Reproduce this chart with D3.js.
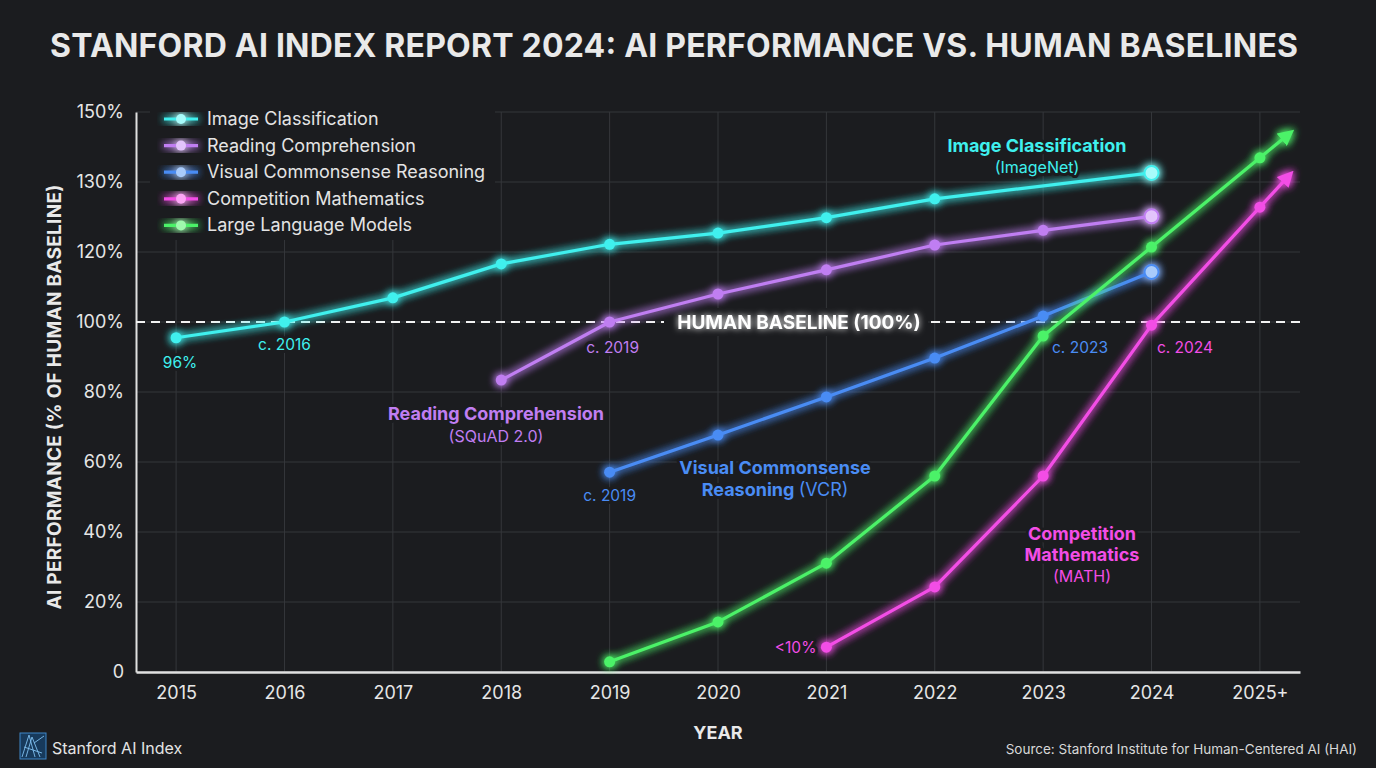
<!DOCTYPE html>
<head>
  <meta charset="utf-8">
  <script src="https://d3js.org/d3.v7.min.js"></script>
  <style>
    body { margin:0; background:#1b1c1f; }
    text { font-family: Inter, "Noto Sans", sans-serif; }
    .grid line { stroke:#35373b; stroke-width:1; }
    .tick-label { fill:#e6e6e6; font-size:18px; }
    .note { paint-order: stroke; stroke:#1b1c1f; stroke-width:6px; stroke-linejoin:round; }
  </style>
</head>

<body>
  <script>
  // ---------- data ---------------
    var years = ["2015","2016","2017","2018","2019","2020","2021","2022","2023","2024","2025+"];
    var yTicks = [0, 20, 40, 60, 80, 100, 120, 130, 150];
    var yTickLabels = ["0","20%","40%","60%","80%","100%","120%","130%","150%"];

    var imageClass = [95.5, 100, 106.9, 116.6, 121.1, 122.7, 124.9, 127.6, null, 132.6, null];
    var reading    = [null, null, null, 83.4, 100, 108, 114.9, 121, 123.1, 125.1, null];
    var vcr        = [null, null, null, null, 57.1, 67.7, 78.6, 89.7, 101.7, 114.3, null];
    var math       = [null, null, null, null, null, null, 7.1, 24.3, 56, 99.1, 126.4];
    var llm        = [null, null, null, null, 2.9, 14.3, 31.1, 56, 96, 120.7, 136.9];

    var seriesNames = ["Image Classification","Reading Comprehension","Visual Commonsense Reasoning","Competition Mathematics","Large Language Models"];
    var seriesColors = ["#3ff0ee","#c07ef2","#4a8cf4","#f34de6","#4cf268"];
    var seriesLight  = ["#a8fbfa","#e2c4fb","#a9cbfb","#fba6f4","#9ff9ad"];
    var seriesValues = [imageClass, reading, vcr, math, llm];

  // ---------- svg ---------------
    var W = 1376, H = 768, bg = "#1b1c1f";
    var svg = d3.select("body").append("svg")
      .attr("width", W)
      .attr("height", H);

    var plotL = 136, plotR = 1300, plotT = 112, plotB = 672;

    var x = d3.scalePoint().domain(years).range([plotL, plotR]).padding(0.37);
    // the axis is not linear above 120%, so use a piecewise scale
    var y = d3.scaleLinear().domain(yTicks)
      .range(yTicks.map(function(d, i) { return plotB - i * (plotB - plotT) / (yTicks.length - 1); }));

    var defs = svg.append("defs");
    var glow = defs.append("filter").attr("id", "glow")
      .attr("x", "-20%").attr("y", "-20%").attr("width", "140%").attr("height", "140%");
    glow.append("feGaussianBlur").attr("stdDeviation", 4).attr("result", "blur");
    var m = glow.append("feMerge");
    m.append("feMergeNode").attr("in", "blur");
    m.append("feMergeNode").attr("in", "blur");
    m.append("feMergeNode").attr("in", "SourceGraphic");

    var softGlow = defs.append("filter").attr("id", "softglow")
      .attr("x", "-20%").attr("y", "-50%").attr("width", "140%").attr("height", "200%");
    softGlow.append("feGaussianBlur").attr("stdDeviation", 3).attr("result", "blur");
    var m2 = softGlow.append("feMerge");
    m2.append("feMergeNode").attr("in", "blur");
    m2.append("feMergeNode").attr("in", "SourceGraphic");

    seriesColors.forEach(function(c, i) {
      defs.append("marker")
        .attr("id", "arrow" + i)
        .attr("viewBox", "0 0 10 10")
        .attr("refX", 6).attr("refY", 5)
        .attr("markerWidth", 5).attr("markerHeight", 5)
        .attr("markerUnits", "strokeWidth")
        .attr("orient", "auto")
        .append("path").attr("d", "M0,0 L10,5 L0,10 Z").attr("fill", c);
    });

    svg.append("rect").attr("width", W).attr("height", H).attr("fill", bg);

  // ---------- title ---------------
    svg.append("text")
      .attr("x", 674).attr("y", 57)
      .attr("text-anchor", "middle")
      .attr("fill", "#e9e9e9")
      .attr("font-size", 32).attr("font-weight", 700)
      .attr("textLength", 1248).attr("lengthAdjust", "spacing")
      .text("STANFORD AI INDEX REPORT 2024: AI PERFORMANCE VS. HUMAN BASELINES");

  // ---------- grid ---------------
    var grid = svg.append("g").attr("class", "grid");
    grid.selectAll(".h").data(yTicks).enter().append("line")
      .attr("x1", plotL).attr("x2", plotR)
      .attr("y1", function(d) { return y(d); }).attr("y2", function(d) { return y(d); });
    grid.selectAll(".v").data(years).enter().append("line")
      .attr("x1", function(d) { return x(d); }).attr("x2", function(d) { return x(d); })
      .attr("y1", plotT).attr("y2", plotB);

  // ---------- axes ---------------
    var yAxis = svg.append("g")
      .attr("transform", "translate(" + plotL + ",0)")
      .call(d3.axisLeft(y).tickValues(yTicks).tickSize(0).tickPadding(12)
        .tickFormat(function(d, i) { return yTickLabels[i]; }));
    yAxis.select(".domain").attr("stroke", "#e0e0e0").attr("stroke-width", 2);
    yAxis.selectAll("text").attr("class", "tick-label").attr("fill", null)
      .style("font-family", "Inter, 'Noto Sans', sans-serif");

    var xAxis = svg.append("g")
      .attr("transform", "translate(0," + plotB + ")")
      .call(d3.axisBottom(x).tickSize(0).tickPadding(14));
    xAxis.select(".domain").attr("stroke", "#e0e0e0").attr("stroke-width", 2.5);
    xAxis.selectAll("text").attr("class", "tick-label").attr("fill", null)
      .style("font-family", "Inter, 'Noto Sans', sans-serif");

    svg.append("text")
      .attr("transform", "translate(61," + ((plotT + plotB) / 2 + 5) + ") rotate(-90)")
      .attr("text-anchor", "middle")
      .attr("fill", "#e9e9e9").attr("font-size", 19).attr("font-weight", 700)
      .attr("textLength", 425).attr("lengthAdjust", "spacing")
      .text("AI PERFORMANCE (% OF HUMAN BASELINE)");

    svg.append("text")
      .attr("x", x("2020")).attr("y", 739)
      .attr("text-anchor", "middle")
      .attr("fill", "#e9e9e9").attr("font-size", 18).attr("font-weight", 700)
      .text("YEAR");

  // ---------- human baseline ---------------
    svg.append("line")
      .attr("x1", plotL).attr("x2", plotR)
      .attr("y1", y(100)).attr("y2", y(100))
      .attr("stroke", "#f2f2f2").attr("stroke-width", 2)
      .attr("stroke-dasharray", "9,6");
    svg.append("rect")
      .attr("x", 664).attr("y", y(100) - 14).attr("width", 264).attr("height", 28)
      .attr("fill", bg);
    svg.append("text")
      .attr("x", 799).attr("y", y(100) + 7)
      .attr("text-anchor", "middle")
      .attr("fill", "#ffffff").attr("font-size", 19).attr("font-weight", 700)
      .attr("filter", "url(#softglow)")
      .text("HUMAN BASELINE (100%)");

  // ---------- series ---------------
    seriesValues.forEach(function(vals, i) {
      var pts = vals.map(function(v, j) { return { year: years[j], v: v }; })
        .filter(function(d) { return d.v != null; });
      var line = d3.line()
        .x(function(d) { return x(d.year); })
        .y(function(d) { return y(d.v); });
      var g = svg.append("g").attr("filter", "url(#glow)");
      g.append("path")
        .attr("d", line(pts))
        .attr("fill", "none")
        .attr("stroke", seriesColors[i])
        .attr("stroke-width", 3.2)
        .attr("stroke-linejoin", "round");

      var last = pts[pts.length - 1];
      if (last.year === "2025+") {
        // continue the last segment into an arrow
        var prev = pts[pts.length - 2];
        var x0 = x(prev.year), y0 = y(prev.v), x1 = x(last.year), y1 = y(last.v);
        var k = 0.27;
        g.append("line")
          .attr("x1", x1).attr("y1", y1)
          .attr("x2", x1 + (x1 - x0) * k).attr("y2", y1 + (y1 - y0) * k)
          .attr("stroke", seriesColors[i]).attr("stroke-width", 3.2)
          .attr("marker-end", "url(#arrow" + i + ")");
      }

      g.selectAll("circle").data(pts).enter().append("circle")
        .attr("cx", function(d) { return x(d.year); })
        .attr("cy", function(d) { return y(d.v); })
        .attr("r", function(d) { return (d.year === "2024" && i < 3) ? 7 : 5.5; })
        .attr("fill", function(d) { return (d.year === "2024" && i < 3) ? seriesLight[i] : seriesColors[i]; })
        .attr("stroke", seriesColors[i])
        .attr("stroke-width", function(d) { return (d.year === "2024" && i < 3) ? 2 : 0; });
    });

  // ---------- annotations ---------------
    function note(tx, ty, parts, color, size, anchor) {
      var t = svg.append("text")
        .attr("class", "note")
        .attr("x", tx).attr("y", ty)
        .attr("text-anchor", anchor || "middle")
        .attr("fill", color).attr("font-size", size);
      parts.forEach(function(p) {
        t.append("tspan").attr("font-weight", p[1] ? 700 : 400).text(p[0]);
      });
    }
    var C = seriesColors;
    note(x("2015") + 4, 368, [["96%"]], C[0], 15.5);
    note(x("2016"), 350, [["c. 2016"]], C[0], 15.5);
    note(x("2019") + 3, 353, [["c. 2019"]], C[1], 15.5);
    note(496, 420, [["Reading Comprehension", 1]], C[1], 18);
    note(496, 442, [["(SQuAD 2.0)"]], C[1], 16);
    note(x("2019"), 501, [["c. 2019"]], C[2], 15.5);
    note(775, 474, [["Visual Commonsense", 1]], C[2], 18);
    note(775, 496, [["Reasoning ", 1], ["(VCR)"]], C[2], 18);
    note(1037, 152, [["Image Classification", 1]], C[0], 18);
    note(1037, 173, [["(ImageNet)"]], C[0], 16);
    note(1080, 353, [["c. 2023"]], C[2], 15.5);
    note(1185, 353, [["c. 2024"]], C[3], 15.5);
    note(1082, 540, [["Competition", 1]], C[3], 18);
    note(1082, 561, [["Mathematics", 1]], C[3], 18);
    note(1082, 582, [["(MATH)"]], C[3], 16);
    note(x("2021") - 10, 653, [["<10%"]], C[3], 15.5, "end");

  // ---------- legend ---------------
    var legend = svg.append("g");
    legend.append("rect")
      .attr("x", 150).attr("y", 102).attr("width", 345).attr("height", 138)
      .attr("fill", bg);
    seriesNames.forEach(function(name, i) {
      var ly = 119 + i * 26.6;
      var lg = legend.append("g").attr("filter", "url(#glow)");
      lg.append("line").attr("x1", 164).attr("x2", 198).attr("y1", ly).attr("y2", ly)
        .attr("stroke", seriesColors[i]).attr("stroke-width", 3.2);
      lg.append("circle").attr("cx", 181).attr("cy", ly).attr("r", 5)
        .attr("fill", seriesLight[i]);
      legend.append("text")
        .attr("x", 207).attr("y", ly + 6)
        .attr("fill", "#e4e4e4").attr("font-size", 18)
        .text(name);
    });

  // ---------- footer ---------------
    var logo = svg.append("g").attr("transform", "translate(20,733)");
    logo.append("rect").attr("width", 26).attr("height", 26)
      .attr("fill", "#173a5c").attr("stroke", "#3f86c8").attr("stroke-width", 1);
    [[2,24,9,2],[6,24,12,4],[12,4,20,24],[14,10,24,3],[4,14,22,20],[9,2,15,24]].forEach(function(s) {
      logo.append("line").attr("x1", s[0]).attr("y1", s[1]).attr("x2", s[2]).attr("y2", s[3])
        .attr("stroke", "#7fc0f0").attr("stroke-width", 0.9);
    });
    svg.append("text")
      .attr("x", 52).attr("y", 754)
      .attr("fill", "#e4e4e4").attr("font-size", 16)
      .text("Stanford AI Index");

    svg.append("text")
      .attr("x", 1357).attr("y", 754)
      .attr("text-anchor", "end")
      .attr("fill", "#d8d8d8").attr("font-size", 13.5)
      .text("Source: Stanford Institute for Human-Centered AI (HAI)");
  </script>
</body>
